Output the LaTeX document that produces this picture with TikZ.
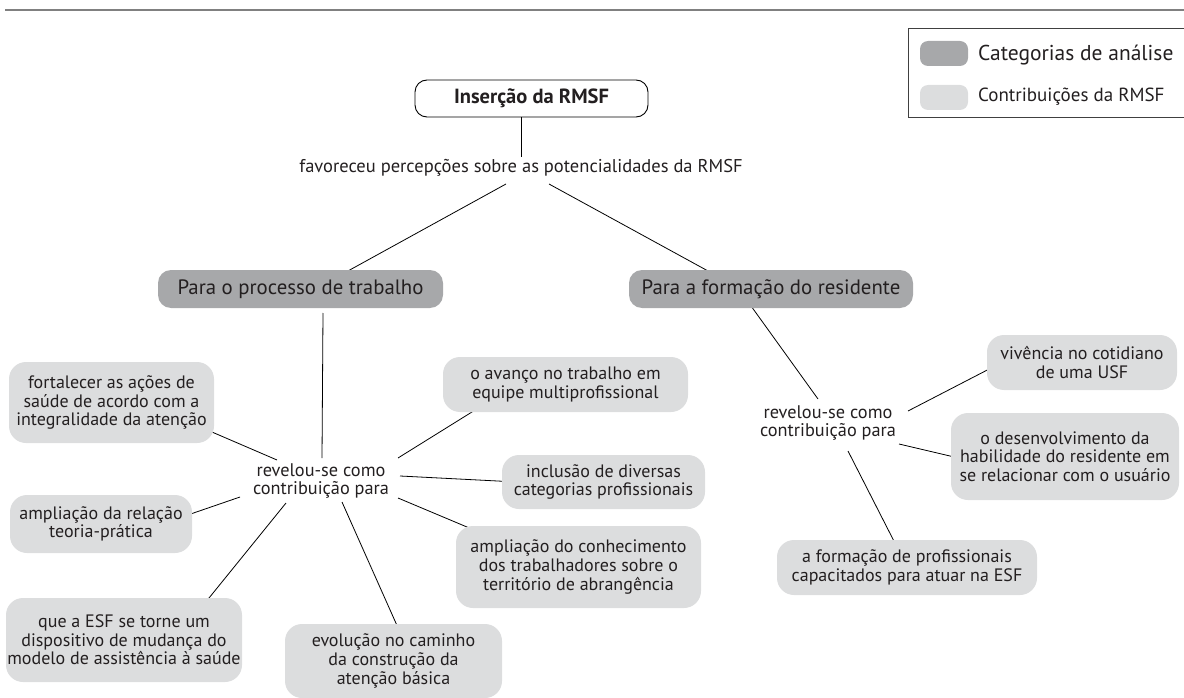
\documentclass[tikz,border=0pt]{standalone}
\usepackage{fontspec}
\setmainfont{PT Sans}
\usetikzlibrary{calc}
\pgfdeclarelayer{bg}
\pgfsetlayers{bg,main}
\definecolor{catgray}{HTML}{A7A8AA}
\definecolor{congray}{HTML}{DCDDDE}
\definecolor{txt}{HTML}{231F20}
\definecolor{rulegray}{HTML}{808080}
\tikzset{
  catbox/.style={fill=catgray, rounded corners=13pt, minimum height=38pt, text=txt,
    font=\fontsize{20.8}{24}\selectfont, inner sep=0pt},
  conbox/.style={fill=congray, rounded corners=17pt, text=txt,
    font=\fontsize{18}{18.6}\selectfont, align=center, inner sep=0pt},
  lbl/.style={text=txt, font=\fontsize{18.3}{18.6}\selectfont, align=center, inner sep=0pt},
  conn/.style={draw=black, line width=0.8pt},
  rootbox/.style={draw=black, line width=0.9pt, fill=white, rounded corners=12pt,
    text=txt, font=\fontsize{20.5}{24}\selectfont\bfseries, inner sep=0pt},
  swatch/.style={rounded corners=8pt, minimum width=48pt, minimum height=25pt, inner sep=0pt},
  legtext/.style={text=txt, anchor=west, inner sep=0pt},
}
\begin{document}
\begin{tikzpicture}[x=1pt,y=-1pt]
\clip (0,0) rectangle (1184,698);
% top rule
\draw[rulegray, line width=2pt] (5,10) -- (1184,10);
% legend
\draw[black!75, line width=0.9pt] (908,28) rectangle (1200,117);
\node[swatch, fill=catgray] (sw1) at (944,53.5) {};
\node[swatch, fill=congray] (sw2) at (944,97.5) {};
\node[legtext, font=\fontsize{21.5}{24}\selectfont] (lg1) at (978,55) {Categorias de análise};
\node[legtext, font=\fontsize{19}{22}\selectfont] (lg2) at (978,97) {Contribuições da RMSF};

% root
\node[rootbox, minimum width=233pt, minimum height=37pt] (ins) at (531.5,98.5) {Inserção da RMSF};
\node[lbl, font=\fontsize{18.5}{20}\selectfont] (fav) at (521,168) {favoreceu percepções sobre as potencialidades da RMSF};

% categories
\node[catbox, minimum width=285pt] (proc) at (300.5,289) {Para o processo de trabalho};
\node[catbox, minimum width=284pt] (form) at (771,289) {Para a formação do residente};

% linking labels
\node[lbl] (revL) at (321,481) {revelou-se como\\contribuição para};
\node[lbl] (revR) at (828,423) {revelou-se como\\contribuição para};

% left contributions
\node[conbox, minimum width=205pt, minimum height=81pt] (fort) at (111.5,402.5)
  {fortalecer as ações de\\saúde de acordo com a\\integralidade da atenção};
\node[conbox, minimum width=182pt, minimum height=58pt] (ampl) at (101,524)
  {ampliação da relação\\teoria-prática};
\node[conbox, minimum width=236pt, minimum height=84pt] (esf) at (124,640)
  {que a ESF se torne um\\dispositivo de mudança do\\modelo de assistência à saúde};
\node[conbox, minimum width=217pt, minimum height=74pt] (evol) at (393.5,661)
  {evolução no caminho\\da construção da\\atenção básica};
\node[conbox, minimum width=245pt, minimum height=55pt] (avan) at (565.5,384.5)
  {o avanço no trabalho em\\equipe multiprofissional};
\node[conbox, minimum width=203pt, minimum height=54pt] (incl) at (603.5,482)
  {inclusão de diversas\\categorias profissionais};
\node[conbox, minimum width=245pt, minimum height=82pt] (conh) at (578.5,567)
  {ampliação do conhecimento\\dos trabalhadores sobre o\\território de abrangência};

% right contributions
\node[conbox, minimum width=190pt, minimum height=55pt] (viv) at (1082,362.5)
  {vivência no cotidiano\\de uma USF};
\node[conbox, minimum width=228pt, minimum height=87pt] (desv) at (1065,456.5)
  {o desenvolvimento da\\habilidade do residente em\\se relacionar com o usuário};
\node[conbox, minimum width=260pt, minimum height=55pt] (fprof) at (907,567.5)
  {a formação de profissionais\\capacitados para atuar na ESF};

\begin{pgfonlayer}{bg}
\draw[conn] ([shift={(-10.5,18.5)}]ins.center) -- ([shift={(0,-11)}]fav.center);
\draw[conn] ([shift={(-15,16)}]fav.center) -- ([shift={(36.5,-12)}]proc.center);
\draw[conn] ([shift={(28,16)}]fav.center) -- ([shift={(-52,-12)}]form.center);
\draw[conn] ([shift={(22.5,24)}]proc.center) -- ([shift={(1,-23)}]revL.center);
\draw[conn] ([shift={(-25,10)}]form.center) -- ([shift={(-10,-24)}]revR.center);
% left hub
\draw[conn] ([shift={(-44,-21)}]revL.center) -- ([shift={(86.5,23.5)}]fort.center);
\draw[conn] ([shift={(-81,16)}]revL.center) -- ([shift={(78,-6)}]ampl.center);
\draw[conn] ([shift={(-35,22)}]revL.center) -- ([shift={(76.5,-31.5)}]esf.center);
\draw[conn] ([shift={(21,21)}]revL.center) -- ([shift={(9.5,-22)}]evol.center);
\draw[conn] ([shift={(77,-23)}]revL.center) -- ([shift={(-77.5,17.5)}]avan.center);
\draw[conn] ([shift={(79,-5)}]revL.center) -- ([shift={(-86.5,0)}]incl.center);
\draw[conn] ([shift={(77,17)}]revL.center) -- ([shift={(-92.5,-32)}]conh.center);
% right hub
\draw[conn] ([shift={(80,-12)}]revR.center) -- ([shift={(-87,3.5)}]viv.center);
\draw[conn] ([shift={(71,21)}]revR.center) -- ([shift={(-98,3.5)}]desv.center);
\draw[conn] ([shift={(20,28)}]revR.center) -- ([shift={(-8,-16.5)}]fprof.center);
\end{pgfonlayer}
\end{tikzpicture}
\end{document}
